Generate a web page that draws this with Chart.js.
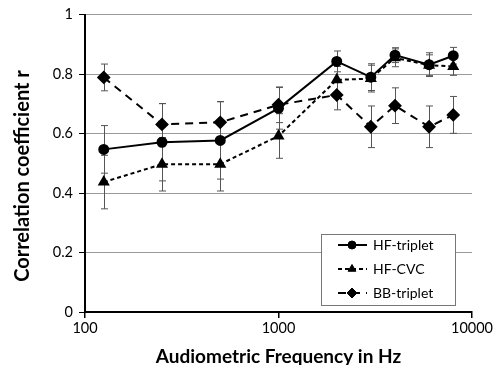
<!DOCTYPE html>
<html>
<head>
<meta charset="utf-8">
<script src="https://cdn.jsdelivr.net/npm/chart.js@4.4.1/dist/chart.umd.min.js"></script>
<style>
  html, body { margin: 0; padding: 0; background: #fff; }
  #wrap { width: 503px; height: 365px; }
</style>
</head>
<body>
<div id="wrap"><canvas id="corrChart" width="503" height="365"></canvas></div>
<script>
// Frecuencias audiométricas (Hz)
const frequencies = [125, 250, 500, 1000, 2000, 3000, 4000, 6000, 8000];

// Coeficiente de correlación por condición
const hfTriplet = [0.547, 0.571, 0.577, 0.685, 0.843, 0.790, 0.864, 0.832, 0.862];
const hfCvc     = [0.437, 0.497, 0.497, 0.592, 0.781, 0.785, 0.855, 0.830, 0.826];
const bbTriplet = [0.789, 0.631, 0.638, 0.697, 0.730, 0.623, 0.694, 0.623, 0.663];

// Barras de error (±)
const hfTripletErr = [0.080, 0.130, 0.130, 0.070, 0.035, 0.045, 0.025, 0.040, 0.028];
const hfCvcErr     = [0.090, 0.090, 0.090, 0.075, 0.045, 0.045, 0.030, 0.035, 0.030];
const bbTripletErr = [0.045, 0.070, 0.070, 0.060, 0.050, 0.070, 0.060, 0.070, 0.062];

const seriesLabels = ['HF-triplet', 'HF-CVC', 'BB-triplet'];
const xTicks = [100, 1000, 10000];
const yTicks = [0, 0.2, 0.4, 0.6, 0.8, 1];
const xTitle = 'Audiometric Frequency in Hz';
const yTitle = 'Correlation coefficient r';

const FONT = 'Lato, "Open Sans", sans-serif';

const toPoints = vals => vals.map((v, i) => ({ x: frequencies[i], y: v }));

const datasets = [
    {
        label: seriesLabels[0], data: toPoints(hfTriplet), errors: hfTripletErr,
        borderColor: '#000', backgroundColor: '#000', borderWidth: 2,
        pointStyle: 'circle', pointRadius: 4.5, borderDash: []
    },
    {
        label: seriesLabels[1], data: toPoints(hfCvc), errors: hfCvcErr,
        borderColor: '#000', backgroundColor: '#000', borderWidth: 2,
        pointStyle: 'triangle', pointRadius: 5, borderDash: [4, 3]
    },
    {
        label: seriesLabels[2], data: toPoints(bbTriplet), errors: bbTripletErr,
        borderColor: '#000', backgroundColor: '#000', borderWidth: 2,
        pointStyle: 'rectRot', pointRadius: 5.5, borderDash: [8, 6]
    }
];

// Barras de error dibujadas antes de las líneas
const errorBars = {
    id: 'errorBars',
    beforeDatasetsDraw(chart) {
        const { ctx, scales: { x, y } } = chart;
        ctx.save();
        ctx.strokeStyle = '#555';
        ctx.lineWidth = 1;
        chart.data.datasets.forEach(ds => {
            ds.data.forEach((p, i) => {
                const e = ds.errors[i];
                const px = Math.round(x.getPixelForValue(p.x)) + 0.5;
                const top = y.getPixelForValue(p.y + e);
                const bot = y.getPixelForValue(p.y - e);
                ctx.beginPath();
                ctx.moveTo(px, top); ctx.lineTo(px, bot);
                ctx.moveTo(px - 3.5, top); ctx.lineTo(px + 3.5, top);
                ctx.moveTo(px - 3.5, bot); ctx.lineTo(px + 3.5, bot);
                ctx.stroke();
            });
        });
        ctx.restore();
    }
};

// Títulos de los ejes
const axisTitles = {
    id: 'axisTitles',
    afterDraw(chart) {
        const { ctx, chartArea } = chart;
        ctx.save();
        ctx.fillStyle = '#000';
        ctx.textAlign = 'center';
        ctx.textBaseline = 'middle';
        ctx.font = 'bold 19px ' + FONT;
        ctx.fillText(xTitle, (chartArea.left + chartArea.right) / 2, 357);
        ctx.translate(23, 176);
        ctx.rotate(-Math.PI / 2);
        ctx.font = 'bold 20px ' + FONT;
        ctx.fillText(yTitle, 0, 0);
        ctx.restore();
    }
};

// Leyenda dentro del área del gráfico (abajo a la derecha)
const boxLegend = {
    id: 'boxLegend',
    afterDraw(chart) {
        const { ctx, chartArea } = chart;
        const w = 134, h = 71;
        const left = chartArea.right - 151, top = chartArea.bottom - 78;
        ctx.save();
        ctx.fillStyle = '#fff';
        ctx.fillRect(left, top, w, h);
        ctx.strokeStyle = '#777';
        ctx.lineWidth = 1;
        ctx.strokeRect(left + 0.5, top + 0.5, w, h);
        chart.data.datasets.forEach((ds, i) => {
            const cy = top + 11 + i * 24;
            ctx.strokeStyle = '#000';
            ctx.fillStyle = '#000';
            ctx.lineWidth = 2;
            ctx.setLineDash(ds.borderDash);
            ctx.beginPath();
            ctx.moveTo(left + 17, cy); ctx.lineTo(left + 46, cy);
            ctx.stroke();
            ctx.setLineDash([]);
            ctx.lineWidth = 1;
            Chart.helpers.drawPoint(ctx, {
                pointStyle: ds.pointStyle, radius: ds.pointRadius - 0.5,
                borderWidth: 1, rotation: 0
            }, left + 31, cy);
            ctx.font = '14px ' + FONT;
            ctx.textBaseline = 'middle';
            ctx.textAlign = 'left';
            ctx.fillText(ds.label, left + 52, cy);
        });
        ctx.restore();
    }
};

new Chart(document.getElementById('corrChart'), {
    type: 'line',
    data: { datasets },
    options: {
        responsive: false,
        animation: false,
        layout: { padding: { top: 10, right: 31, left: 0, bottom: 0 } },
        plugins: { legend: { display: false }, tooltip: { enabled: false } },
        elements: { line: { tension: 0 } },
        scales: {
            x: {
                type: 'logarithmic', min: 100, max: 10000,
                afterBuildTicks: s => { s.ticks = xTicks.map(v => ({ value: v })); },
                afterFit: s => { s.height = 53; },
                ticks: {
                    color: '#000', font: { family: FONT, size: 14.5 }, padding: 2,
                    maxRotation: 0, autoSkip: false,
                    callback: v => String(v)
                },
                grid: { drawOnChartArea: false, tickLength: 6, tickColor: '#000', lineWidth: 1.5 },
                border: { color: '#000', width: 2 }
            },
            y: {
                min: 0, max: 1,
                afterBuildTicks: s => { s.ticks = yTicks.map(v => ({ value: v })); },
                afterFit: s => { s.width = 85; },
                ticks: {
                    color: '#000', font: { family: FONT, size: 14.5 }, padding: 6,
                    callback: v => String(v)
                },
                grid: { color: '#999', lineWidth: 1, tickLength: 6, tickColor: '#000' },
                border: { color: '#000', width: 2 }
            }
        }
    },
    plugins: [errorBars, axisTitles, boxLegend]
});
</script>
</body>
</html>
